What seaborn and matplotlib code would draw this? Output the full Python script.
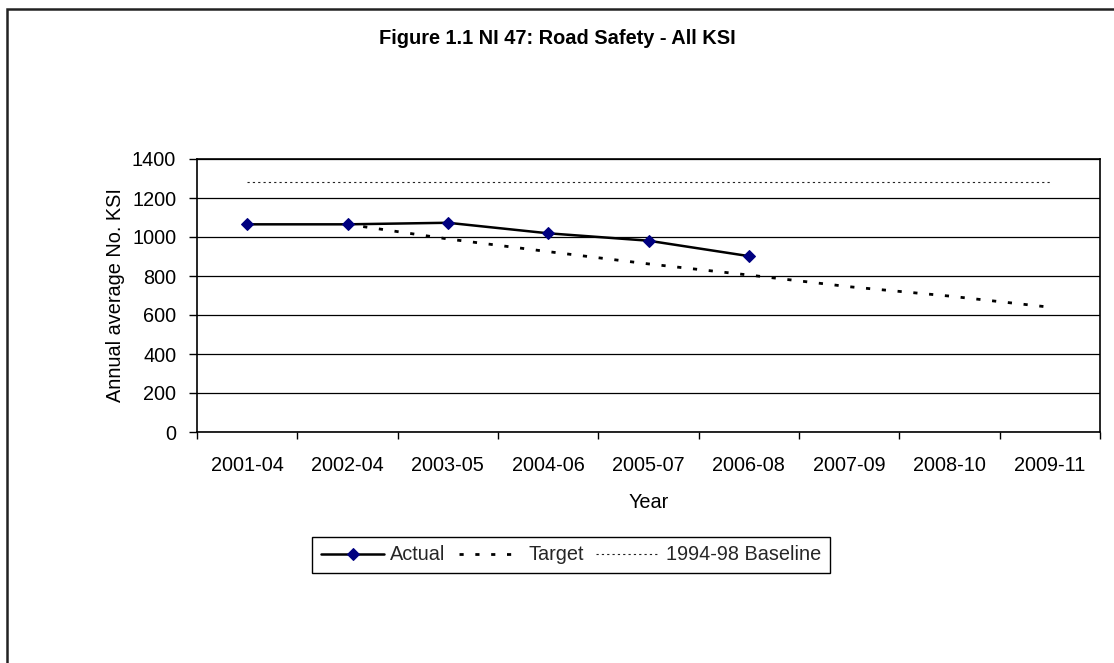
import matplotlib
matplotlib.use("Agg")
import matplotlib.pyplot as plt
import seaborn as sns
import pandas as pd
import numpy as np
from matplotlib.patches import Rectangle
from matplotlib.ticker import FixedLocator

years = ["2001-04", "2002-04", "2003-05", "2004-06", "2005-07",
         "2006-08", "2007-09", "2008-10", "2009-11"]
actual = [1065, 1065, 1073, 1019, 981, 902, None, None, None]
target = [None, 1065, 990, 925, 862, 805, 745, 697, 640]
baseline = [1282, 1282, 1282, 1282, 1282, 1282, 1282, 1282, 1282]

sns.set_theme(style="white")
plt.rcParams['font.family'] = ['Liberation Sans', 'DejaVu Sans']

FS = 14.3

df = pd.DataFrame({"Year": years, "Actual": actual, "Target": target,
                   "Baseline": baseline})
df["pos"] = np.arange(len(years))

fig = plt.figure(figsize=(11.14, 6.63), dpi=100)
ax = fig.add_axes([197/1114, 1-432/663, (1100-197)/1114, (432-159)/663])

d_b = df.dropna(subset=["Baseline"])
sns.lineplot(data=d_b, x="pos", y="Baseline", ax=ax, color="#222222",
             linewidth=0.8, dashes=False, label="1994-98 Baseline")
ax.lines[-1].set_dashes((2.0, 2.8))

d_t = df.dropna(subset=["Target"])
sns.lineplot(data=d_t, x="pos", y="Target", ax=ax, color="black",
             linewidth=2.0, label="Target")
ax.lines[-1].set_dashes((1.5, 4.2))

d_a = df.dropna(subset=["Actual"])
sns.lineplot(data=d_a, x="pos", y="Actual", ax=ax, color="black",
             linewidth=1.8, marker="D", markersize=6,
             markerfacecolor="#000080", markeredgecolor="#000080",
             label="Actual")

ax.set_xlim(-0.5, len(years) - 0.5)
ax.set_ylim(0, 1400)
ax.set_yticks(np.arange(0, 1401, 200))
ax.yaxis.grid(True, color="black", linewidth=0.9)
ax.set_axisbelow(True)

ax.set_xticks(np.arange(len(years)))
ax.set_xticklabels(years)
ax.xaxis.set_minor_locator(FixedLocator(np.arange(-0.5, len(years), 1.0)))
ax.tick_params(axis="x", which="major", length=0, pad=17, labelsize=FS,
               colors="black")
ax.tick_params(axis="x", which="minor", length=5, width=1, color="black",
               direction="out", bottom=True)
ax.tick_params(axis="y", which="major", length=6, width=1, color="black",
               direction="out", left=True, pad=9, labelsize=FS,
               labelcolor="black")

for s in ax.spines.values():
    s.set_color("black")
    s.set_linewidth(1.2)

ax.set_xlabel("Year", fontsize=FS, color="black", labelpad=13)
ax.set_ylabel("Annual average No. KSI", fontsize=FS, color="black",
              labelpad=5)

ax.get_legend().remove()
h, l = ax.get_legend_handles_labels()
order = [l.index("Actual"), l.index("Target"), l.index("1994-98 Baseline")]
leg = fig.legend([h[i] for i in order], [l[i] for i in order],
                 loc="center", bbox_to_anchor=(571/1114, 1-555/663),
                 ncol=3, frameon=True, fancybox=False, fontsize=FS,
                 handlelength=3.2, handletextpad=0.3, columnspacing=0.65,
                 borderpad=0.45, borderaxespad=0)
leg.get_frame().set_edgecolor("black")
leg.get_frame().set_linewidth(1.0)
leg.get_frame().set_facecolor("white")
leg.get_frame().set_alpha(1)

fig.text(557/1114, 1-39/663, "Figure 1.1 NI 47: Road Safety - All KSI",
         ha="center", va="center", fontsize=14.4, fontweight="bold",
         color="black")

fig.patches.append(Rectangle((7/1114, 0.0 - 0.05), 1.2, 1 - 9.5/663 + 0.05,
                             transform=fig.transFigure, fill=False,
                             edgecolor="#222222", linewidth=1.8))

fig.savefig("out.png", dpi=100)
